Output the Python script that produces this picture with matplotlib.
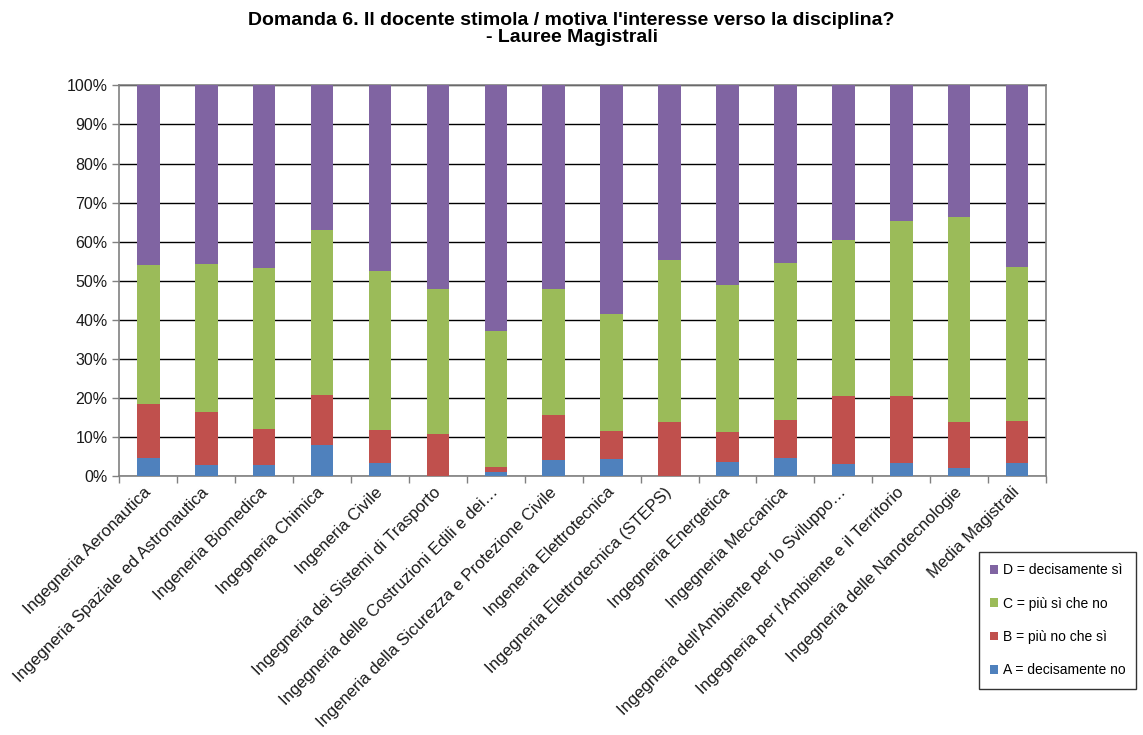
import numpy as np
import matplotlib.pyplot as plt

plt.rcParams['font.family'] = ['Liberation Sans', 'DejaVu Sans']

corsi = ['Ingegneria Aeronautica', 'Ingegneria Spaziale ed Astronautica', 'Ingeneria Biomedica',
         'Ingegneria Chimica', 'Ingeneria Civile', 'Ingegneria dei Sistemi di Trasporto',
         'Ingegneria delle Costruzioni Edili e dei…', 'Ingeneria della Sicurezza e Protezione Civile',
         'Ingeneria Elettrotecnica', 'Ingegneria Elettrotecnica (STEPS)', 'Ingegneria Energetica',
         'Ingegneria Meccanica', "Ingegneria dell'Ambiente per lo Sviluppo…",
         "Ingegneria per l'Ambiente e il Territorio", 'Ingegneria delle Nanotecnologie',
         'Media Magistrali']

# percentuali
A = [4.5, 2.8, 2.8, 8.0, 3.2, 0.0, 1.1, 4.1, 4.3, 0.0, 3.7, 4.7, 3.0, 3.2, 2.1, 3.2]
B = [14.0, 13.6, 9.2, 12.7, 8.5, 10.7, 1.3, 11.6, 7.3, 13.7, 7.6, 9.7, 17.4, 17.2, 11.8, 10.9]
C = [35.6, 38.0, 41.3, 42.3, 40.8, 37.1, 34.6, 32.1, 30.0, 41.5, 37.6, 40.2, 39.9, 44.9, 52.4, 39.5]
D = [100 - a - b - c for a, b, c in zip(A, B, C)]

serie = ['A = decisamente no', 'B = più no che sì', 'C = più sì che no', 'D = decisamente sì']
colori = ['#4F81BD', '#C0504D', '#9BBB59', '#8064A2']

fig = plt.figure(figsize=(11.43, 7.35), dpi=100)
ax = fig.add_axes([0.1044, 0.3524, 0.8108, 0.5314])

x = np.arange(len(corsi))
base = np.zeros(len(corsi))
for vals, nome, col in zip([A, B, C, D], serie, colori):
    ax.bar(x, vals, 0.39, bottom=base, color=col, label=nome, zorder=3)
    base += np.array(vals)

ax.set_xlim(-0.5, len(corsi) - 0.5)
ax.set_ylim(0, 100)
ax.set_yticks(np.arange(0, 101, 10))
ax.set_yticklabels([f'{v}%' for v in range(0, 101, 10)], fontsize=11.5, color='#1a1a1a')
ax.yaxis.grid(True, color='black', linewidth=1.0, zorder=0)
ax.tick_params(axis='y', length=5, color='#808080', width=1)

ax.set_xticks(np.arange(-0.5, len(corsi), 1), minor=False)
ax.set_xticklabels([])
ax.set_xticks(x, minor=True)
ax.set_xticklabels(corsi, minor=True, rotation=45, ha='right', va='center',
                   rotation_mode='anchor', fontsize=12, color='#1a1a1a')
ax.tick_params(axis='x', which='major', length=5, color='#808080', width=1)
ax.tick_params(axis='x', which='minor', length=0, pad=10)

for s in ['left', 'bottom', 'right', 'top']:
    ax.spines[s].set_color('#808080')
    ax.spines[s].set_linewidth(1.2)

h, l = ax.get_legend_handles_labels()
leg = fig.legend(h[::-1], l[::-1], loc='upper left', bbox_to_anchor=(0.8565, 0.249),
                 fontsize=10, frameon=True, fancybox=False, edgecolor='black',
                 handlelength=0.6, handleheight=0.6, handletextpad=0.3,
                 labelspacing=1.4, borderpad=0.8, borderaxespad=0)
leg.get_frame().set_linewidth(1.0)

fig.text(0.5, 0.984, "Domanda 6. Il docente stimola / motiva l'interesse verso la disciplina?\n- Lauree Magistrali",
         ha='center', va='top', fontsize=14, fontweight='bold', linespacing=1.0)

fig.savefig('out.png', dpi=100, facecolor='white')
